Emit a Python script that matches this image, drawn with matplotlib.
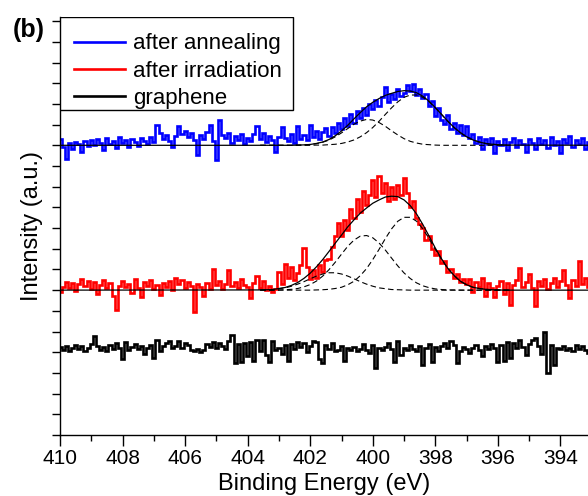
import numpy as np
import matplotlib
matplotlib.use('Agg')
import matplotlib.pyplot as plt
from matplotlib.ticker import MultipleLocator
from matplotlib.patches import Rectangle

plt.rcParams['font.family'] = ['Liberation Sans', 'DejaVu Sans']

# ---- spectra (relative intensity, 0.1 eV steps starting at 410.0 eV) ----
energy_start = 410.0
energy_step = 0.1

blue_counts = [
    0.30, -0.10, -0.65, 0.10, -0.20, 0.15, 0.05, -0.30, 0.20, -0.05,
    0.25, 0.00, 0.30, 0.10, -0.25, 0.35, 0.05, 0.20, -0.15, 0.40,
    0.10, 0.25, -0.10, 0.30, 0.15, -0.05, 0.35, 0.20, 0.05, 0.40,
    0.15, 1.00, 0.60, 0.30, 0.50, 0.20, -0.10, 0.45, 0.95, 0.55,
    0.70, 0.40, 0.60, 0.25, -0.45, 0.50, 0.30, 0.65, 1.00, 0.20,
    -0.70, 1.20, 0.50, 0.35, 0.60, 0.10, 0.45, 0.25, 0.55, 0.05,
    0.35, 0.20, 0.55, 0.95, 0.30, 0.60, 0.15, 0.45, 0.25, -0.30,
    0.40, 0.90, 0.35, 0.20, 0.55, 0.10, 0.95, 0.30, 0.50, 0.25,
    1.00, 0.40, 0.70, 0.30, 0.65, 0.85, 0.45, 0.90, 0.60, 1.10,
    0.80, 1.30, 0.95, 1.50, 1.10, 1.65, 1.30, 1.80, 1.45, 2.00,
    1.75, 2.20, 1.90, 2.35, 2.80, 2.10, 2.50, 2.25, 2.70, 2.40,
    2.55, 2.90, 2.60, 2.95, 2.45, 2.70, 2.30, 2.50, 1.90, 2.15,
    1.40, 1.80, 1.20, 1.05, 1.45, 0.80, 1.10, 0.60, 1.00, 0.50,
    0.95, 0.35, 0.55, 0.10, 0.40, -0.20, 0.30, 0.05, 0.35, -0.35,
    0.20, 0.00, 0.30, -0.25, 0.15, 0.35, -0.10, 0.25, 0.05, -0.30,
    0.30, 0.10, -0.20, 0.35, 0.05, 0.25, -0.15, 0.40, 0.00, 0.20,
    -0.35, 0.30, 0.10, 0.45, -0.10, 0.25, 0.05, 0.35, -0.20, 0.15,
]

red_counts = [
    -0.10, 0.15, 0.40, 0.10, 0.35, -0.05, 0.30, 0.55, 0.20, 0.45,
    0.05, 0.40, -0.20, 0.25, 0.50, 0.10, 0.35, -0.30, -0.95, 0.20,
    0.45, 0.15, 0.30, -0.15, 0.55, 0.10, -0.35, 0.40, 0.20, 0.50,
    0.05, 0.25, -0.25, 0.35, 0.15, 0.45, 0.00, 0.60, 0.30, 0.50,
    0.10, 0.40, 0.20, -1.05, 0.30, 0.15, -0.30, 0.35, 0.05, 1.00,
    0.25, 0.45, 0.05, 0.30, 0.95, 0.20, 0.40, 0.10, 0.55, 0.25,
    0.15, -0.40, 0.35, 0.70, 0.10, 0.45, 0.00, 0.20, -0.10, 0.05,
    0.90, 0.30, 1.25, 0.60, 1.10, 0.50, 0.85, 1.20, 2.05, 1.10,
    0.55, 0.95, 0.60, 1.20, 0.90, 1.45, 1.50, 2.10, 2.60, 3.25,
    2.60, 3.40, 2.90, 3.90, 3.50, 4.40, 3.80, 4.80, 4.10, 4.60,
    5.30, 4.50, 5.50, 4.70, 5.20, 4.30, 5.00, 4.40, 5.10, 4.60,
    5.40, 4.70, 4.00, 4.30, 3.50, 3.20, 3.00, 2.40, 2.60, 2.00,
    1.70, 1.90, 1.30, 1.40, 0.90, 1.00, 0.60, 0.80, 0.40, 0.55,
    0.30, 0.55, -0.10, 0.40, 0.15, 0.60, -0.30, 0.35, 0.10, -0.35,
    0.20, 0.45, -0.20, 0.35, -0.70, 0.25, 0.50, 1.05, 0.15, 0.40,
    0.80, 0.10, -0.75, 0.45, 0.20, 0.55, 0.05, 0.35, 0.60, 0.15,
    0.45, 0.95, 0.25, -0.40, 0.50, 0.20, 1.40, 0.30, 0.60, 0.15,
]

black_counts = [
    0.25, 0.10, 0.30, 0.05, 0.20, 0.35, 0.15, 0.28, 0.05, 0.22,
    0.40, 0.80, 0.30, 0.10, 0.25, 0.05, 0.35, 0.15, 0.45, 0.20,
    -0.35, 0.50, 0.10, 0.25, 0.40, 0.15, 0.30, -0.10, 0.20, 0.35,
    -0.30, 0.60, 0.05, 0.30, 0.45, 0.55, 0.20, 0.30, 0.55, 0.20,
    0.45, 0.35, 0.10, 0.05, 0.15, 0.00, 0.10, 0.40, 0.25, 0.50,
    0.20, 0.45, 0.30, 0.15, 0.55, 0.85, -0.50, 0.40, -0.45, 0.45,
    -0.20, 0.50, -0.40, 0.60, 0.05, 0.60, -0.15, -0.45, 0.55, 0.10,
    0.20, -0.10, 0.35, -0.40, 0.40, 0.15, 0.50, 0.25, 0.45, 0.00,
    0.30, 0.55, 0.50, -0.35, -0.50, 0.35, 0.15, 0.45, 0.05, 0.10,
    0.30, -0.40, 0.20, 0.10, 0.25, 0.05, 0.15, 0.40, 0.10, -0.05,
    0.35, -0.75, 0.20, 0.10, 0.25, 0.45, 0.15, -0.45, 0.55, -0.15,
    0.20, 0.10, 0.35, 0.15, 0.05, 0.30, -0.60, 0.20, 0.40, -0.45,
    0.25, 0.05, 0.30, 0.45, 0.20, 0.55, 0.35, -0.50, 0.05, 0.25,
    0.15, -0.05, 0.20, 0.35, 0.10, -0.20, 0.30, 0.15, 0.40, 0.20,
    -0.45, 0.35, -0.40, 0.50, -0.30, 0.45, 0.20, 0.60, 0.25, -0.15,
    0.40, 0.60, 0.70, 0.30, -0.10, 1.00, -1.00, 0.35, -0.60, 0.20,
    0.15, 0.30, 0.10, 0.20, 0.05, 0.35, 0.15, 0.30, 0.10, -0.05,
]

labels = ['after annealing', 'after irradiation', 'graphene']
colors = ['#0000ff', '#ff0000', '#000000']
offsets = [14.0, 7.0, 4.0]

# ---- fitted components (0.2 eV grid, 403.6 -> 395.6 eV) ----
fit_start = 403.6
fit_step = 0.2

red_env = [0.01, 0.02, 0.03, 0.08, 0.13, 0.23, 0.37, 0.57, 0.82, 1.13,
           1.48, 1.87, 2.27, 2.66, 3.06, 3.40, 3.72, 3.97, 4.20, 4.36,
           4.50, 4.54, 4.52, 4.36, 4.08, 3.68, 3.17, 2.61, 2.03, 1.51,
           1.05, 0.71, 0.43, 0.26, 0.14, 0.08, 0.04, 0.02, 0.01, 0.00, 0.00]
red_c1 = [0, 0, 0, 0, 0, 0, 0, 0, 0, 0.01,
          0.02, 0.04, 0.08, 0.14, 0.26, 0.43, 0.70, 1.04, 1.48, 1.97,
          2.49, 2.96, 3.33, 3.52, 3.52, 3.33, 2.96, 2.49, 1.97, 1.48,
          1.04, 0.70, 0.43, 0.26, 0.14, 0.08, 0.04, 0.02, 0.01, 0, 0]
red_c2 = [0, 0, 0, 0.01, 0.02, 0.04, 0.08, 0.16, 0.27, 0.44,
          0.68, 0.99, 1.35, 1.74, 2.12, 2.42, 2.61, 2.64, 2.53, 2.28,
          1.94, 1.55, 1.17, 0.83, 0.56, 0.35, 0.21, 0.12, 0.06, 0.03,
          0.01, 0.01, 0, 0, 0, 0, 0, 0, 0, 0, 0]
red_c3 = [0.01, 0.02, 0.03, 0.07, 0.11, 0.19, 0.29, 0.41, 0.55, 0.68,
          0.78, 0.84, 0.84, 0.78, 0.68, 0.55, 0.41, 0.29, 0.19, 0.11,
          0.07, 0.03, 0.02, 0.01, 0, 0, 0, 0, 0, 0,
          0, 0, 0, 0, 0, 0, 0, 0, 0, 0, 0]

blue_env = [0, 0, 0, 0, 0, 0, 0.01, 0.02, 0.04, 0.09,
            0.16, 0.28, 0.46, 0.69, 0.97, 1.28, 1.58, 1.86, 2.08, 2.26,
            2.41, 2.51, 2.60, 2.64, 2.62, 2.54, 2.37, 2.13, 1.82, 1.49,
            1.16, 0.86, 0.61, 0.41, 0.26, 0.16, 0.09, 0.05, 0.03, 0.01, 0.01]
blue_cA = [0, 0, 0, 0, 0, 0, 0.01, 0.02, 0.04, 0.08,
           0.15, 0.25, 0.41, 0.60, 0.81, 1.02, 1.17, 1.25, 1.22, 1.10,
           0.92, 0.70, 0.50, 0.32, 0.19, 0.11, 0.05, 0.03, 0.01, 0,
           0, 0, 0, 0, 0, 0, 0, 0, 0, 0, 0]
blue_cB = [0, 0, 0, 0, 0, 0, 0, 0, 0, 0.01,
           0.01, 0.03, 0.05, 0.09, 0.16, 0.26, 0.41, 0.61, 0.86, 1.16,
           1.49, 1.81, 2.10, 2.32, 2.43, 2.43, 2.32, 2.10, 1.81, 1.49,
           1.16, 0.86, 0.61, 0.41, 0.26, 0.16, 0.09, 0.05, 0.03, 0.01, 0.01]

x_ticks = [410, 408, 406, 404, 402, 400, 398, 396, 394]

# ---- figure ----
W, H = 588, 496
fig = plt.figure(figsize=(W / 100, H / 100), dpi=100)
ax_l, ax_b, ax_w, ax_h = 60, 61, 528, 418   # pixels
ax = fig.add_axes([ax_l / W, ax_b / H, ax_w / W, ax_h / H])

for vals, lab, col, off in zip([blue_counts, red_counts, black_counts], labels, colors, offsets):
    e = energy_start - energy_step * np.arange(len(vals))
    ax.plot(e, off + np.asarray(vals), color=col, lw=1.9, drawstyle='steps-mid',
            label=lab, solid_joinstyle='miter')

fit_e = fit_start - fit_step * np.arange(len(red_env))
xmin, xmax = 410.0, 393.12
full_e = np.concatenate([[xmin + 1], fit_e, [xmax - 1]])

for env, comps, off in [(red_env, [red_c1, red_c2, red_c3], 7.0),
                        (blue_env, [blue_cA, blue_cB], 14.0)]:
    for c in comps:
        ax.plot(fit_e, off + np.asarray(c), color='black', lw=0.8, ls=(0, (5, 3)))
    ax.plot(full_e, off + np.concatenate([[0], env, [0]]), color='black', lw=0.9)

ax.set_xlim(xmin, xmax)
ax.set_ylim(0, 20.2)
ax.set_xticks(x_ticks)
ax.xaxis.set_minor_locator(MultipleLocator(1))
ax.yaxis.set_major_locator(MultipleLocator(1))
ax.spines['top'].set_visible(False)
ax.spines['right'].set_visible(False)
for s in ['left', 'bottom']:
    ax.spines[s].set_linewidth(1.0)
ax.tick_params(axis='x', which='major', direction='out', length=8, width=1, labelsize=15, pad=2)
ax.tick_params(axis='x', which='minor', direction='out', length=4.5, width=1)
ax.tick_params(axis='y', which='major', direction='out', length=6, width=1, labelleft=False)

ax.set_xlabel('Binding Energy (eV)', fontsize=17, labelpad=4)
ax.set_ylabel('Intensity (a.u.)', fontsize=17)
ax.yaxis.set_label_coords(-0.032, 0.5)

# legend frame (box from axes top-left to 293 px wide, 110 px from top)
box_right, box_bottom = 293, 110
y0 = (H - box_bottom - ax_b) / ax_h
frame = Rectangle((0, y0), (box_right - ax_l) / ax_w, 1 - y0, transform=ax.transAxes,
                  facecolor='white', edgecolor='black', lw=1.0, zorder=4)
ax.add_patch(frame)

leg = ax.legend(loc='upper left', bbox_to_anchor=((74 - ax_l) / ax_w, (H - ax_b - 33.5) / ax_h),
                borderaxespad=0, borderpad=0, fontsize=16, frameon=False,
                handlelength=2.3, handletextpad=0.35, labelspacing=0.28)
leg.set_zorder(5)

fig.text(13 / W, 1 - 18 / H, '(b)', fontsize=18, fontweight='bold', va='top', ha='left')

fig.savefig('out.png', dpi=100)
